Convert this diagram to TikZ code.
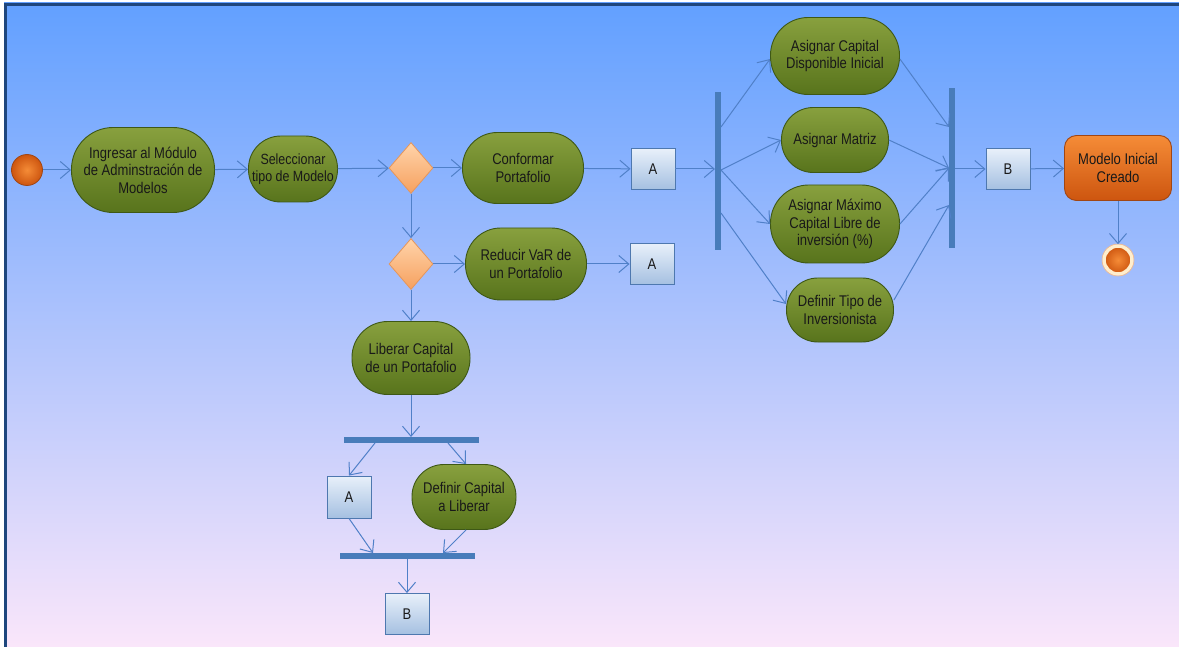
\documentclass[tikz,border=0pt]{standalone}
\usepackage{fontspec}
\setmainfont{Liberation Sans}[FakeStretch=0.84]
\usetikzlibrary{shapes.misc,shapes.geometric,arrows.meta,calc}

\definecolor{bgtop}{RGB}{98,160,255}
\definecolor{bgmid}{RGB}{172,195,252}
\definecolor{bgbot}{RGB}{250,230,250}
\definecolor{framecol}{RGB}{30,70,125}
\definecolor{actlight}{RGB}{136,160,62}
\definecolor{actdark}{RGB}{88,116,28}
\definecolor{actborder}{RGB}{62,88,22}
\definecolor{txtcol}{RGB}{25,25,25}
\definecolor{boxlight}{RGB}{232,240,250}
\definecolor{boxdark}{RGB}{165,192,225}
\definecolor{boxborder}{RGB}{78,120,175}
\definecolor{dialight}{RGB}{255,212,170}
\definecolor{diadark}{RGB}{246,160,95}
\definecolor{diaborder}{RGB}{230,150,90}
\definecolor{linecol}{RGB}{80,128,200}
\definecolor{barcol}{RGB}{72,124,186}
\definecolor{orlight}{RGB}{245,140,55}
\definecolor{ordark}{RGB}{205,85,15}
\definecolor{orborder}{RGB}{160,70,20}
\definecolor{ringcol}{RGB}{255,238,205}

\tikzset{
  lbl/.style={font=\fontsize{15.5}{17.5}\selectfont, text=txtcol, align=center},
  % activity pill: width, height (pt)
  activity/.style 2 args={lbl, rectangle, minimum width=#1pt, minimum height=#2pt,
    rounded corners={#2*0.49pt}, draw=actborder, line width=0.9pt,
    top color=actlight, bottom color=actdark, inner sep=0pt},
  connbox/.style={lbl, rectangle, draw=boxborder, line width=0.9pt,
    top color=boxlight, bottom color=boxdark, minimum width=44pt, minimum height=41pt, inner sep=0pt},
  decision/.style={diamond, draw=diaborder, line width=0.8pt,
    top color=dialight, bottom color=diadark, minimum width=44pt, minimum height=51pt, inner sep=0pt},
  syncbar/.style={rectangle, fill=barcol, inner sep=0pt},
  flow/.style={draw=linecol, line width=1pt, -{Straight Barb[length=10pt,width=17pt,line width=1pt]}},
  finalact/.style={lbl, rectangle, rounded corners=12pt, draw=orborder, line width=0.9pt,
    top color=orlight, bottom color=ordark, minimum width=107pt, minimum height=65pt, inner sep=0pt}
}

\begin{document}
\begin{tikzpicture}[x=1pt,y=-1pt]
\useasboundingbox (0,0) rectangle (1179,647);
% canvas
\fill[white] (0,0) rectangle (1179,647);
\shade[top color=bgtop, middle color=bgmid, bottom color=bgbot] (4,3) rectangle (1179,647);
\draw[framecol, line width=3pt] (5.5,647) -- (5.5,4.5) -- (1179,4.5);

% start and main line
\node[circle, draw=orborder, line width=0.8pt, inner color=orlight, outer color=ordark, minimum size=31pt, inner sep=0pt] (start) at (27,170) {};
\node[activity={143}{85}] (ingresar) at (143,170) {Ingresar al Módulo\\de Adminstración de\\Modelos};
\node[activity={89}{66}, font=\fontsize{14.8}{17.5}\selectfont] (selec) at (293,169) {Seleccionar\\tipo de Modelo};
\node[decision] (d1) at (411,168) {};
\node[activity={121}{71}] (conf) at (523,168) {Conformar\\Portafolio};
\node[connbox] (a1) at (653,169) {A};

\node[decision] (d2) at (411,264) {};
\node[activity={121}{72}] (reducir) at (526,264) {Reducir VaR de\\un Portafolio};
\node[connbox] (a2) at (652,264) {A};

\node[activity={118}{73}] (liberar) at (411,358) {Liberar Capital\\de un Portafolio};
\node[syncbar, minimum width=135pt, minimum height=6pt] (hb1) at (411.5,440) {};
\node[connbox, minimum height=42pt] (a3) at (349,497) {A};
\node[activity={104}{65}] (defcap) at (464,497) {Definir Capital\\a Liberar};
\node[syncbar, minimum width=135pt, minimum height=6pt] (hb2) at (407.5,556) {};
\node[connbox] (b2) at (407,614) {B};

% parallel assignments
\node[syncbar, minimum width=6pt, minimum height=158pt] (vb1) at (718,171) {};
\node[activity={129}{77}] (asigcap) at (835,56) {Asignar Capital\\Disponible Inicial};
\node[activity={107}{65}] (asigmat) at (835,140) {Asignar Matriz};
\node[activity={129}{78}] (asigmax) at (835,224) {Asignar Máximo\\Capital Libre de\\inversión (\%)};
\node[activity={107}{64}] (deftipo) at (840,310) {Definir Tipo de\\Inversionista};
\node[syncbar, minimum width=6pt, minimum height=160pt] (vb2) at (952,168) {};
\node[connbox] (b1) at (1008,169) {B};
\node[finalact] (modelo) at (1118,168) {Modelo Inicial\\Creado};
\node[circle, draw=ringcol, line width=3.5pt, inner color=orlight, outer color=ordark, minimum size=28pt, inner sep=0pt] (fin) at (1118,260) {};
\draw[orlight!60, line width=0.6pt] (fin) circle (16pt);

% attachment points on the bars
\coordinate (vb1in) at (715,169);
\coordinate (vb1a) at (721,127);
\coordinate (vb1b) at (721,170);
\coordinate (vb1c) at (721,213);
\coordinate (vb2a) at (949,127);
\coordinate (vb2b) at (949,168);
\coordinate (vb2c) at (949,205);
\coordinate (vb2out) at (955,169);
\coordinate (hb1in) at (411,437);
\coordinate (hb1a) at (375,443);
\coordinate (hb1b) at (448,443);
\coordinate (hb2a) at (373,553);
\coordinate (hb2b) at (443,553);
\coordinate (hb2out) at (407,559);

% connectors
\draw[flow] (start) -- (ingresar);
\draw[flow] (ingresar) -- (selec);
\draw[flow] (selec) -- (d1);
\draw[flow] (d1) -- (conf);
\draw[flow] (conf) -- (a1);
\draw[flow] (a1) -- (vb1in);
\draw[flow] (d1) -- (d2);
\draw[flow] (d2) -- (reducir);
\draw[flow] (reducir) -- (a2);
\draw[flow] (d2) -- (liberar);
\draw[flow] (liberar) -- (hb1in);
\draw[flow] (hb1a) -- (a3.north);
\draw[flow] (hb1b) -- ($(defcap.north)+(2,0)$);
\draw[flow] (a3.south) -- (hb2a);
\draw[flow] ($(defcap.south)+(2,0)$) -- (hb2b);
\draw[flow] (hb2out) -- (b2);

\draw[flow] (vb1a) -- ($(asigcap.west)+(0,3)$);
\draw[flow] (vb1b) -- (asigmat.west);
\draw[flow] (vb1b) -- (asigmax.west);
\draw[flow] (vb1c) -- ($(deftipo.west)+(0,-6)$);
\draw[flow] ($(asigcap.east)+(0,3)$) -- (vb2a);
\draw[flow] (asigmat.east) -- (vb2b);
\draw[flow] (asigmax.east) -- (vb2b);
\draw[flow] ($(deftipo.east)+(0,-10)$) -- (vb2c);
\draw[flow] (vb2out) -- (b1);
\draw[flow] (b1) -- (modelo);
\draw[flow] (modelo) -- (fin);
\end{tikzpicture}
\end{document}
